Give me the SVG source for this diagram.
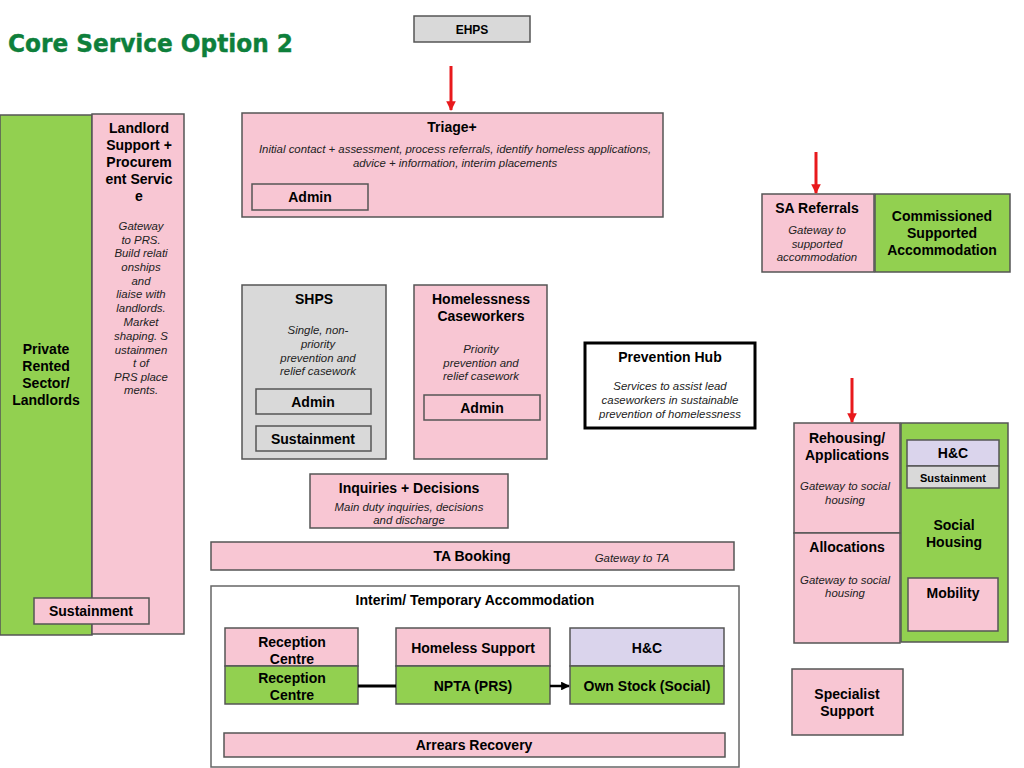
<svg xmlns="http://www.w3.org/2000/svg" width="1024" height="768" viewBox="0 0 1024 768">
<defs>
<style>
.pk{fill:#F8C6D3;stroke:#555;stroke-width:1.5}
.gr{fill:#92D050;stroke:#555;stroke-width:1.5}
.gy{fill:#D9D9D9;stroke:#555;stroke-width:1.5}
.lv{fill:#DAD4EC;stroke:#555;stroke-width:1.5}
.wh{fill:#FFFFFF;stroke:#666;stroke-width:1.5}
text{font-family:"Liberation Sans",Arial,sans-serif;fill:#000;text-anchor:middle}
.b{font-weight:bold;font-size:14px}
.bs{font-weight:bold;font-size:12px}
.i{font-style:italic;font-size:11.4px;fill:#222}
.red{stroke:#E8191C;stroke-width:3;fill:none}
</style>
<marker id="ra" viewBox="0 0 10 10" refX="9" refY="5" markerWidth="3.2" markerHeight="3.2" orient="auto"><path d="M0,0 L10,5 L0,10 z" fill="#E8191C"/></marker>
<marker id="ba" viewBox="0 0 10 10" refX="9" refY="5" markerWidth="3.5" markerHeight="3.5" orient="auto"><path d="M0,0 L10,5 L0,10 z" fill="#000"/></marker>
</defs>
<rect width="1024" height="768" fill="#fff"/>
<text x="8" y="52" style="font-family:'DejaVu Sans',Verdana,sans-serif;font-weight:bold;font-size:24px;fill:#0E7F3B;text-anchor:start;stroke:#0E7F3B;stroke-width:0.4" textLength="285" lengthAdjust="spacingAndGlyphs">Core Service Option 2</text>

<g id="ehps"><rect class="gy" x="414" y="16" width="116" height="26"/><text class="bs" x="472" y="34">EHPS</text></g>

<g id="prs"><rect class="gr" x="0" y="115" width="92" height="520"/>
<text class="b" x="46" y="354">Private</text><text class="b" x="46" y="371">Rented</text><text class="b" x="46" y="388">Sector/</text><text class="b" x="46" y="405">Landlords</text></g>

<g id="landlord"><rect class="pk" x="92" y="114" width="92" height="520"/>
<text class="b" x="139" y="133">Landlord</text><text class="b" x="139" y="150">Support +</text><text class="b" x="139" y="167">Procurem</text><text class="b" x="139" y="184">ent Servic</text><text class="b" x="139" y="201">e</text>
<text class="i" x="141" y="230">Gateway</text><text class="i" x="141" y="244">to PRS.</text><text class="i" x="141" y="257">Build relati</text><text class="i" x="141" y="271">onships</text><text class="i" x="141" y="285">and</text><text class="i" x="141" y="298">liaise with</text><text class="i" x="141" y="312">landlords.</text><text class="i" x="141" y="326">Market</text><text class="i" x="141" y="340">shaping. S</text><text class="i" x="141" y="354">ustainmen</text><text class="i" x="141" y="367">t of</text><text class="i" x="141" y="381">PRS place</text><text class="i" x="141" y="394">ments.</text></g>

<g id="sust-left"><rect class="pk" x="34" y="598" width="115" height="26"/><text class="b" x="91" y="616">Sustainment</text></g>

<g id="triage"><rect class="pk" x="242" y="113" width="421" height="104"/>
<text class="b" x="452" y="132">Triage+</text>
<text class="i" x="455" y="153">Initial contact + assessment, process referrals, identify homeless applications,</text>
<text class="i" x="455" y="167">advice + information, interim placements</text>
<rect class="pk" x="252" y="184" width="116" height="26"/><text class="b" x="310" y="202">Admin</text></g>

<g id="shps"><rect class="gy" x="242" y="285" width="144" height="174"/>
<text class="b" x="314" y="304">SHPS</text>
<text class="i" x="318" y="334">Single, non-</text><text class="i" x="318" y="348">priority</text><text class="i" x="318" y="362">prevention and</text><text class="i" x="318" y="375">relief casework</text>
<rect class="gy" x="256" y="389" width="115" height="25"/><text class="b" x="313" y="407">Admin</text>
<rect class="gy" x="256" y="426" width="115" height="25"/><text class="b" x="313" y="444">Sustainment</text></g>

<g id="caseworkers"><rect class="pk" x="414" y="285" width="133" height="174"/>
<text class="b" x="481" y="304">Homelessness</text><text class="b" x="481" y="321">Caseworkers</text>
<text class="i" x="481" y="353">Priority</text><text class="i" x="481" y="367">prevention and</text><text class="i" x="481" y="380">relief casework</text>
<rect class="pk" x="424" y="395" width="116" height="25"/><text class="b" x="482" y="413">Admin</text></g>

<g id="prevhub"><rect x="585" y="343" width="170" height="85" fill="#fff" stroke="#000" stroke-width="3"/>
<text class="b" x="670" y="362">Prevention Hub</text>
<text class="i" x="670" y="390">Services to assist lead</text><text class="i" x="670" y="404">caseworkers in sustainable</text><text class="i" x="670" y="418">prevention of homelessness</text></g>

<g id="sa"><rect class="pk" x="762" y="194" width="112" height="78"/>
<text class="b" x="817" y="213">SA Referrals</text>
<text class="i" x="817" y="234">Gateway to</text><text class="i" x="817" y="248">supported</text><text class="i" x="817" y="261">accommodation</text></g>

<g id="csa"><rect class="gr" x="875" y="194" width="135" height="78"/>
<text class="b" x="942" y="221">Commissioned</text><text class="b" x="942" y="238">Supported</text><text class="b" x="942" y="255">Accommodation</text></g>

<g id="rehousing"><rect class="pk" x="794" y="423" width="106" height="110"/>
<text class="b" x="847" y="443">Rehousing/</text><text class="b" x="847" y="460">Applications</text>
<text class="i" x="845" y="490">Gateway to social</text><text class="i" x="845" y="504">housing</text></g>

<g id="allocations"><rect class="pk" x="794" y="533" width="106" height="110"/>
<text class="b" x="847" y="552">Allocations</text>
<text class="i" x="845" y="584">Gateway to social</text><text class="i" x="845" y="597">housing</text></g>

<g id="social"><rect class="gr" x="901" y="423" width="107" height="219"/>
<rect class="lv" x="907" y="440" width="92" height="26"/><text class="b" x="953" y="458">H&amp;C</text>
<rect class="gy" x="907" y="466" width="92" height="22"/><text class="bs" x="953" y="482" style="font-size:11px">Sustainment</text>
<text class="b" x="954" y="530">Social</text><text class="b" x="954" y="547">Housing</text>
<rect class="pk" x="908" y="578" width="90" height="53"/><text class="b" x="953" y="598">Mobility</text></g>

<g id="inquiries"><rect class="pk" x="310" y="474" width="198" height="54"/>
<text class="b" x="409" y="493">Inquiries + Decisions</text>
<text class="i" x="409" y="511">Main duty inquiries, decisions</text><text class="i" x="409" y="524">and discharge</text></g>

<g id="ta"><rect class="pk" x="211" y="542" width="523" height="28"/>
<text class="b" x="472" y="561">TA Booking</text>
<text class="i" x="632" y="562">Gateway to TA</text></g>

<g id="interim"><rect class="wh" x="211" y="586" width="528" height="181"/>
<text class="b" x="475" y="605">Interim/ Temporary Accommodation</text></g>

<g id="reception"><rect class="pk" x="225" y="628" width="133" height="38"/><text class="b" x="292" y="647">Reception</text><text class="b" x="292" y="664">Centre</text>
<rect class="gr" x="225" y="666" width="133" height="38"/><text class="b" x="292" y="683">Reception</text><text class="b" x="292" y="700">Centre</text></g>

<g id="npta"><rect class="pk" x="396" y="628" width="154" height="38"/><text class="b" x="473" y="653">Homeless Support</text>
<rect class="gr" x="396" y="666" width="154" height="38"/><text class="b" x="473" y="691">NPTA (PRS)</text></g>

<g id="ownstock"><rect class="lv" x="570" y="628" width="154" height="38"/><text class="b" x="647" y="653">H&amp;C</text>
<rect class="gr" x="570" y="666" width="154" height="38"/><text class="b" x="647" y="691">Own Stock (Social)</text></g>

<g id="arrears"><rect class="pk" x="224" y="733" width="501" height="24"/><text class="b" x="474" y="750">Arrears Recovery</text></g>

<g id="specialist"><rect class="pk" x="792" y="669" width="111" height="66"/>
<text class="b" x="847" y="699">Specialist</text><text class="b" x="847" y="716">Support</text></g>

<g id="connectors">
<line class="red" x1="451" y1="66" x2="451" y2="110" marker-end="url(#ra)"/>
<line class="red" x1="816" y1="152" x2="816" y2="193" marker-end="url(#ra)"/>
<line class="red" x1="852" y1="378" x2="852" y2="422" marker-end="url(#ra)"/>
<line x1="358" y1="686" x2="396" y2="686" stroke="#000" stroke-width="3"/>
<line x1="550" y1="686" x2="569" y2="686" stroke="#000" stroke-width="2.5" marker-end="url(#ba)"/>
</g>
</svg>
